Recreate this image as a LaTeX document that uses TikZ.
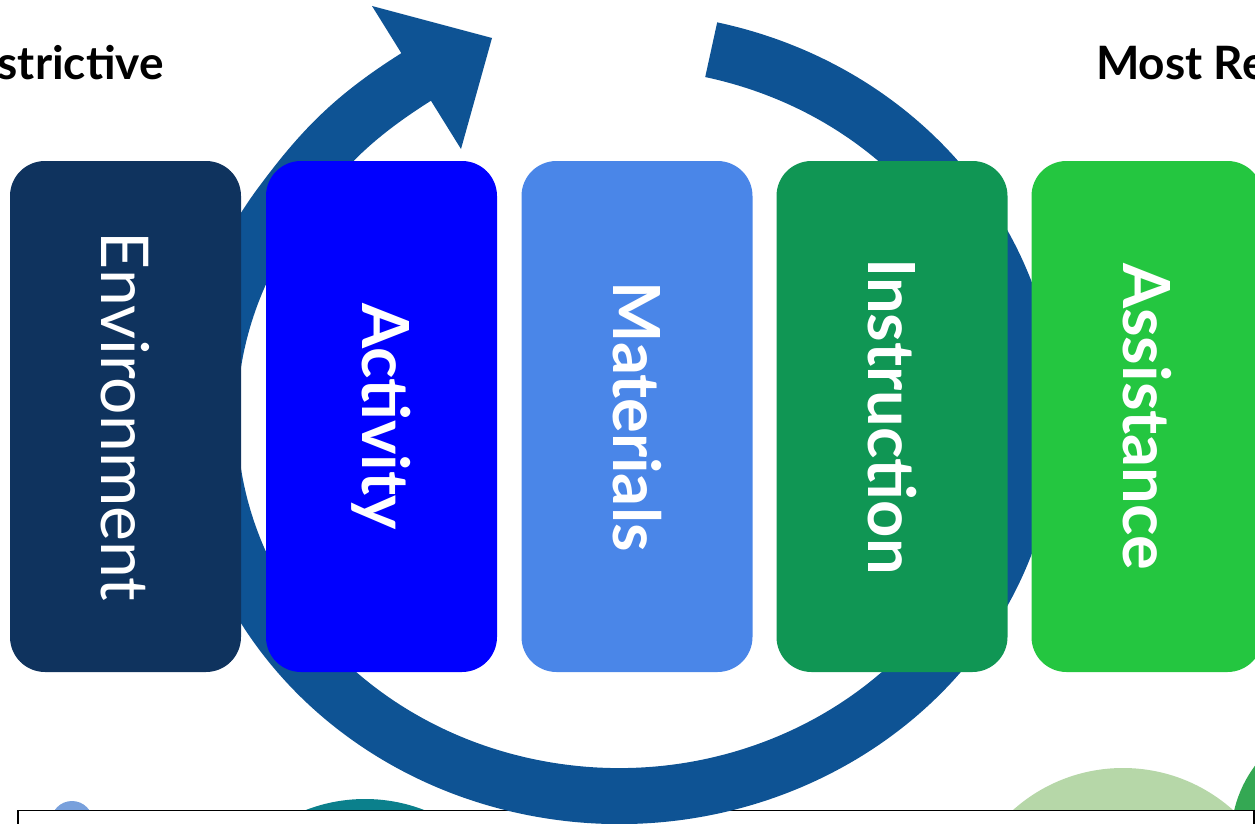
\documentclass[tikz,border=0pt]{standalone}
\usepackage{fontspec}
\setmainfont{Lato}
\definecolor{ringc}{RGB}{14,83,148}
\definecolor{envc}{RGB}{15,51,94}
\definecolor{actc}{RGB}{0,0,255}
\definecolor{matc}{RGB}{74,134,232}
\definecolor{insc}{RGB}{16,150,84}
\definecolor{assc}{RGB}{36,198,64}
\definecolor{tealc}{RGB}{11,128,140}
\definecolor{lbluec}{RGB}{120,160,220}
\definecolor{lgreenc}{RGB}{182,215,168}
\definecolor{greenc}{RGB}{52,168,83}
\begin{document}
\begin{tikzpicture}[x=1pt,y=-1pt,
  box/.style={rotate=-90, minimum width=511pt, minimum height=231pt,
    rounded corners=35pt, inner sep=0pt, text=white},
  boldtxt/.style={font=\fontsize{65pt}{65pt}\selectfont\bfseries},
  regtxt/.style={font=\fontsize{66pt}{66pt}\selectfont},
  title/.style={font=\fontsize{46pt}{46pt}\selectfont\bfseries, text=black, inner sep=0pt},
  ring/.style={draw=ringc, line width=56pt, line cap=butt}]
\useasboundingbox (0,0) rectangle (1255,824);
\clip (0,0) rectangle (1255,824);
% background circles (behind the bottom panel)
\fill[lbluec] (72,822) circle[radius=21];
\fill[tealc] (365,963) circle[radius=164];
\fill[lgreenc] (1123,933) circle[radius=165];
\fill[greenc] (1352,838) circle[radius=121];
% bottom panel
\draw[black, line width=1.5pt, fill=white] (18,810.5) rectangle (1254,860);
% circular arrow
\coordinate (tail) at (711.2,49.7);
\coordinate (headbase) at (419.4,74.9);
\draw[ring] (tail) arc[start angle=-77, end angle=215, x radius=410, y radius=378]
  .. controls (325,145) and (357,114) .. (headbase);
\fill[ringc] (372,6) -- (492,38) -- (461,149) -- cycle;
% boxes
\node[box, fill=envc, regtxt] (env) at (125.5,416.5) {Environment};
\node[box, fill=actc, boldtxt] (act) at (381.5,416.5) {Activity};
\node[box, fill=matc, boldtxt] (mat) at (637,416.5) {Materials};
\node[box, fill=insc, boldtxt] (ins) at (892,416.5) {Instruction};
\node[box, fill=assc, boldtxt] (ass) at (1147,416.5) {Assistance};
% titles
\node[title, anchor=base east] (least) at (164,80) {strictive};
\node[title, anchor=base west] (most) at (1096,80) {Most Re};
\end{tikzpicture}
\end{document}
